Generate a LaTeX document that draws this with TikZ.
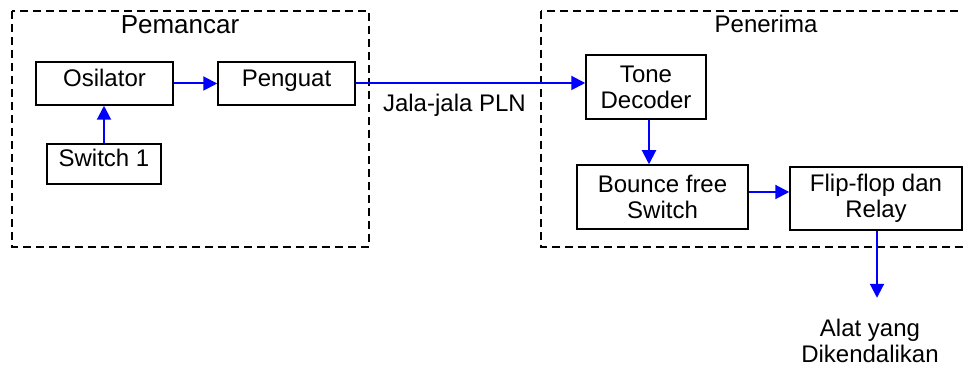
\documentclass[tikz,border=0pt]{standalone}
\usepackage{fontspec}
\setmainfont{Liberation Sans}
\usetikzlibrary{arrows.meta, positioning}
\definecolor{flowblue}{HTML}{0000FF}
\tikzset{
  block/.style={draw, line width=0.75pt, inner sep=0pt, font=\fontsize{12}{13}\selectfont,
    align=center},
  oneline/.style={text height=9pt, text depth=6pt},
  group/.style={draw, dashed, line width=0.75pt, dash pattern=on 4pt off 2.5pt},
  flow/.style={draw=flowblue, line width=1pt, -{Triangle[length=7pt,width=7pt]}, fill=flowblue}
}

\begin{document}
\begin{tikzpicture}[x=0.5pt, y=-0.5pt]
  \useasboundingbox (0,0) rectangle (963,367);
  % Groups
  \begin{scope}
    \clip (0,0) rectangle (963,367);
    \draw[group] (12,11) rectangle (369,247);
    \draw[group] (541,11) rectangle (975,247);
  \end{scope}
  \node[font=\fontsize{13}{15}\selectfont] (tx) at (180,25) {Pemancar};
  \node[font=\fontsize{12}{14}\selectfont] (rx) at (766,24) {Penerima};
  % Transmitter
  \node[block, oneline, minimum width=68.5pt, minimum height=21.5pt] (osc) at (104.5,83.5) {Osilator};
  \node[block, oneline, minimum width=68.5pt, minimum height=21.5pt] (amp) at (286.5,83.5) {Penguat};
  \node[block, oneline, minimum width=57pt, minimum height=20pt] (sw) at (104,164) {Switch 1};
  % Receiver
  \node[block, minimum width=60pt, minimum height=32pt] (dec) at (646,87) {Tone\\Decoder};
  \node[block, minimum width=85.5pt, minimum height=32pt] (bfs) at (662.5,197) {Bounce free\\Switch};
  \node[block, minimum width=86pt, minimum height=31.5pt] (ff) at (876,198.5) {Flip-flop dan\\Relay};
  \node[font=\fontsize{12}{13}\selectfont, align=center, inner sep=0pt] (out) at (870,341) {Alat yang\\Dikendalikan};
  % Connections
  \draw[flow] (sw.north) -- (sw.north |- osc.south);
  \draw[flow] (osc) -- (amp);
  \draw[flow] ([yshift=0.25pt]amp.east) -- ([yshift=0.25pt]amp.east -| dec.west)
    node[pos=0.43, below=1.7pt, text=black, font=\fontsize{12}{14}\selectfont] (line) {Jala-jala PLN};
  \draw[flow] ([xshift=1.5pt]dec.south) -- ([xshift=1.5pt]dec.south |- bfs.north);
  \draw[flow] ([yshift=2.5pt]bfs.east) -- ([yshift=2.5pt]bfs.east -| ff.west);
  \draw[flow] ([xshift=0.5pt]ff.south) -- ([xshift=0.5pt,yshift=10.5pt]ff.south |- out.north);
\end{tikzpicture}
\end{document}
